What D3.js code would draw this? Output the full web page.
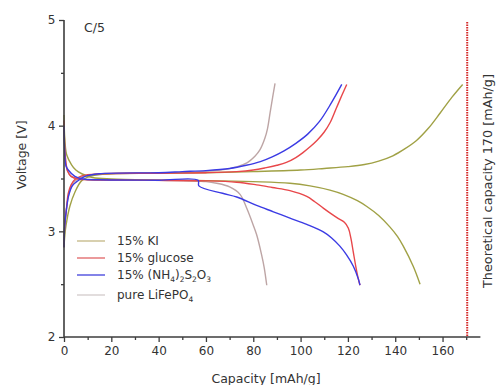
<!DOCTYPE html>
<html><head><meta charset="utf-8">
<script src="https://cdn.jsdelivr.net/npm/d3@7"></script>
<style>body{margin:0;background:#fff}svg{display:block}text{font-family:"DejaVu Sans",Verdana,sans-serif}</style>
</head><body><svg id="c" width="496" height="385"></svg>
<script>
// ---- data (capacity mAh/g, voltage V) ----
const kiCharge = [[0,2.85],[0.5,3.0],[1.5,3.14],[2.5,3.24],[4.6,3.37],[7.5,3.48],[11.7,3.525],[20,3.545],[40,3.55],[60,3.555],[80,3.565],[100,3.58],[110,3.595],[120,3.612],[127,3.632],[133,3.665],[139,3.715],[144,3.78],[149,3.86],[154,3.975],[159,4.12],[164,4.27],[168.5,4.39]];
const kiDischarge = [[0,4.1],[0.4,3.85],[1.2,3.72],[3.2,3.63],[5,3.58],[7.5,3.545],[12,3.51],[20,3.495],[40,3.485],[60,3.48],[80,3.47],[95.5,3.455],[104,3.43],[112.4,3.39],[118,3.35],[124,3.29],[128,3.235],[133,3.15],[137.8,3.04],[141,2.95],[143.4,2.86],[147.6,2.67],[150.5,2.5]];
const glucoseCharge = [[0,2.85],[0.3,3.05],[1.1,3.23],[1.8,3.36],[3,3.44],[4.6,3.49],[7.5,3.525],[15,3.545],[40,3.55],[60,3.555],[73,3.565],[80,3.58],[85,3.6],[90,3.625],[94,3.652],[98,3.698],[101,3.745],[104,3.8],[107,3.862],[110,3.94],[112.5,4.03],[115,4.16],[117.5,4.29],[119.5,4.39]];
const glucoseDischarge = [[0,4.05],[0.3,3.8],[0.8,3.65],[1.5,3.57],[3,3.52],[6,3.495],[10,3.488],[30,3.485],[60,3.478],[73,3.465],[81.4,3.44],[88,3.415],[95.5,3.385],[102.6,3.33],[106,3.28],[109.6,3.22],[113,3.165],[116,3.12],[118.5,3.085],[120.2,3.03],[121.3,2.93],[122.3,2.8],[123.4,2.66],[124.4,2.55],[125.1,2.49]];
const nh4Charge = [[0,2.85],[0.3,3.05],[1.1,3.22],[2,3.34],[3.5,3.43],[5.4,3.47],[8.9,3.52],[15,3.545],[40,3.555],[50,3.565],[60,3.575],[70,3.595],[77,3.625],[83,3.66],[88,3.705],[93,3.762],[98,3.833],[103,3.92],[108,4.04],[113,4.215],[117.4,4.39]];
const nh4Discharge = [[0,4.0],[0.3,3.75],[0.8,3.62],[1.8,3.58],[4.6,3.52],[8,3.495],[15,3.488],[40,3.484],[56.7,3.483],[57,3.43],[67,3.36],[73,3.325],[81.4,3.245],[88.5,3.185],[95.5,3.125],[102.6,3.065],[109.6,2.995],[113,2.94],[116.6,2.86],[119.5,2.775],[122.3,2.67],[124.4,2.55],[125.1,2.49]];
const pureCharge = [[0,2.85],[0.4,3.05],[1.2,3.24],[2,3.35],[3.5,3.44],[6,3.5],[10,3.53],[20,3.545],[40,3.55],[55,3.56],[66,3.58],[73,3.61],[77.5,3.65],[80.7,3.71],[82.8,3.77],[84.9,3.88],[86,3.97],[87.1,4.12],[88.2,4.27],[89.2,4.4]];
const pureDischarge = [[0,4.05],[0.3,3.8],[0.8,3.65],[1.5,3.57],[3,3.52],[6,3.495],[10,3.488],[40,3.482],[60,3.47],[64.5,3.455],[70,3.42],[74.4,3.35],[77.2,3.22],[79.3,3.1],[81.4,2.97],[83.5,2.78],[84.6,2.66],[85.7,2.49]];

const seriesNames = ["15% KI","15% glucose","15% (NH4)2S2O3","pure LiFePO4"];
const seriesColors = ["#a0a145","#e8474a","#3b3be4","#bda5a5"];
const legendColors = ["#cbc094","#e4787a","#5a5ae0","#d8d2d2"];
const curves = [[kiCharge,kiDischarge],[glucoseCharge,glucoseDischarge],[nh4Charge,nh4Discharge],[pureCharge,pureDischarge]];

const xMajorTicks = [0,20,40,60,80,100,120,140,160];
const xMinorTicks = [10,30,50,70,90,110,130,150,170];
const yMajorTicks = [2,3,4,5];
const yMinorTicks = [2.5,3.5,4.5];
const theoreticalCapacity = 170;

// ---- drawing ----
const svg = d3.select("#c");
const x = d3.scaleLinear().domain([0,176]).range([64,480.4]);
const y = d3.scaleLinear().domain([2,5]).range([337,20]);
const axisColor = "#3d3d3d";

const line = d3.line().x(d=>x(d[0])).y(d=>y(d[1])).curve(d3.curveCatmullRom.alpha(0.5));
const order = [3,0,1,2];
order.forEach(i=>{
  curves[i].forEach(c=>{
    svg.append("path").attr("d",line(c)).attr("fill","none")
      .attr("stroke",seriesColors[i]).attr("stroke-width",1.4).attr("stroke-linejoin","round");
  });
});

// theoretical capacity dotted line
svg.append("line").attr("x1",x(theoreticalCapacity)+1).attr("x2",x(theoreticalCapacity)+1)
  .attr("y1",y(5)+2).attr("y2",y(2)).attr("stroke","#d42a2a").attr("stroke-width",2)
  .attr("stroke-dasharray","1.5,1");

// axes
const gx = svg.append("g").attr("transform",`translate(0,${y(2)})`);
gx.call(d3.axisBottom(x).tickValues(xMajorTicks).tickSize(5).tickFormat(d3.format("d")));
const gxm = svg.append("g").attr("transform",`translate(0,${y(2)})`);
gxm.call(d3.axisBottom(x).tickValues(xMinorTicks).tickSize(3).tickFormat(""));
const gy = svg.append("g").attr("transform",`translate(${x(0)},0)`);
gy.call(d3.axisLeft(y).tickValues(yMajorTicks).tickSize(5).tickFormat(d3.format("d")));
const gym = svg.append("g").attr("transform",`translate(${x(0)},0)`);
gym.call(d3.axisLeft(y).tickValues(yMinorTicks).tickSize(3).tickFormat(""));
[gx,gxm,gy,gym].forEach(g=>{
  g.select(".domain").remove();
  g.selectAll(".tick line").attr("stroke",axisColor).attr("stroke-width",1.3);
  g.selectAll(".tick text").attr("fill","#333").attr("font-size",12)
    .attr("font-family","'DejaVu Sans',sans-serif");
});
gx.selectAll(".tick text").attr("dy","0.85em");
gy.selectAll(".tick text").attr("dx","-0.05em");
svg.append("line").attr("x1",x(0)).attr("x2",x(176)).attr("y1",y(2)).attr("y2",y(2))
  .attr("stroke",axisColor).attr("stroke-width",1.6);
svg.append("line").attr("x1",x(0)).attr("x2",x(0)).attr("y1",y(5)).attr("y2",y(2))
  .attr("stroke",axisColor).attr("stroke-width",1.6);

// axis titles
svg.append("text").attr("x",266).attr("y",383).attr("text-anchor","middle")
  .attr("font-size",12.5).attr("fill","#333").text("Capacity [mAh/g]");
svg.append("text").attr("transform","translate(26,155) rotate(-90)").attr("text-anchor","middle")
  .attr("font-size",12.5).attr("fill","#333").text("Voltage [V]");
svg.append("text").attr("transform","translate(492,181) rotate(-90)").attr("text-anchor","middle")
  .attr("font-size",12.8).attr("fill","#333").text("Theoretical capacity 170 [mAh/g]");
svg.append("text").attr("x",84).attr("y",32).attr("font-size",12.5).attr("fill","#333").text("C/5");

// legend
const legY = [241,258,275,295];
const leg = svg.append("g");
seriesNames.forEach((n,i)=>{
  leg.append("line").attr("x1",77).attr("x2",105).attr("y1",legY[i]).attr("y2",legY[i])
    .attr("stroke",legendColors[i]).attr("stroke-width",1.5);
  const t = leg.append("text").attr("x",117).attr("y",legY[i]+4).attr("font-size",12).attr("fill","#333");
  if(i===2){
    t.append("tspan").text("15% (NH");
    t.append("tspan").attr("font-size",7.5).attr("dy",3).text("4");
    t.append("tspan").attr("dy",-3).text(")");
    t.append("tspan").attr("font-size",7.5).attr("dy",3).text("2");
    t.append("tspan").attr("dy",-3).text("S");
    t.append("tspan").attr("font-size",7.5).attr("dy",3).text("2");
    t.append("tspan").attr("dy",-3).text("O");
    t.append("tspan").attr("font-size",7.5).attr("dy",3).text("3");
  } else if(i===3){
    t.append("tspan").text("pure LiFePO");
    t.append("tspan").attr("font-size",7.5).attr("dy",3).text("4");
  } else {
    t.text(n);
  }
});
</script></body></html>
